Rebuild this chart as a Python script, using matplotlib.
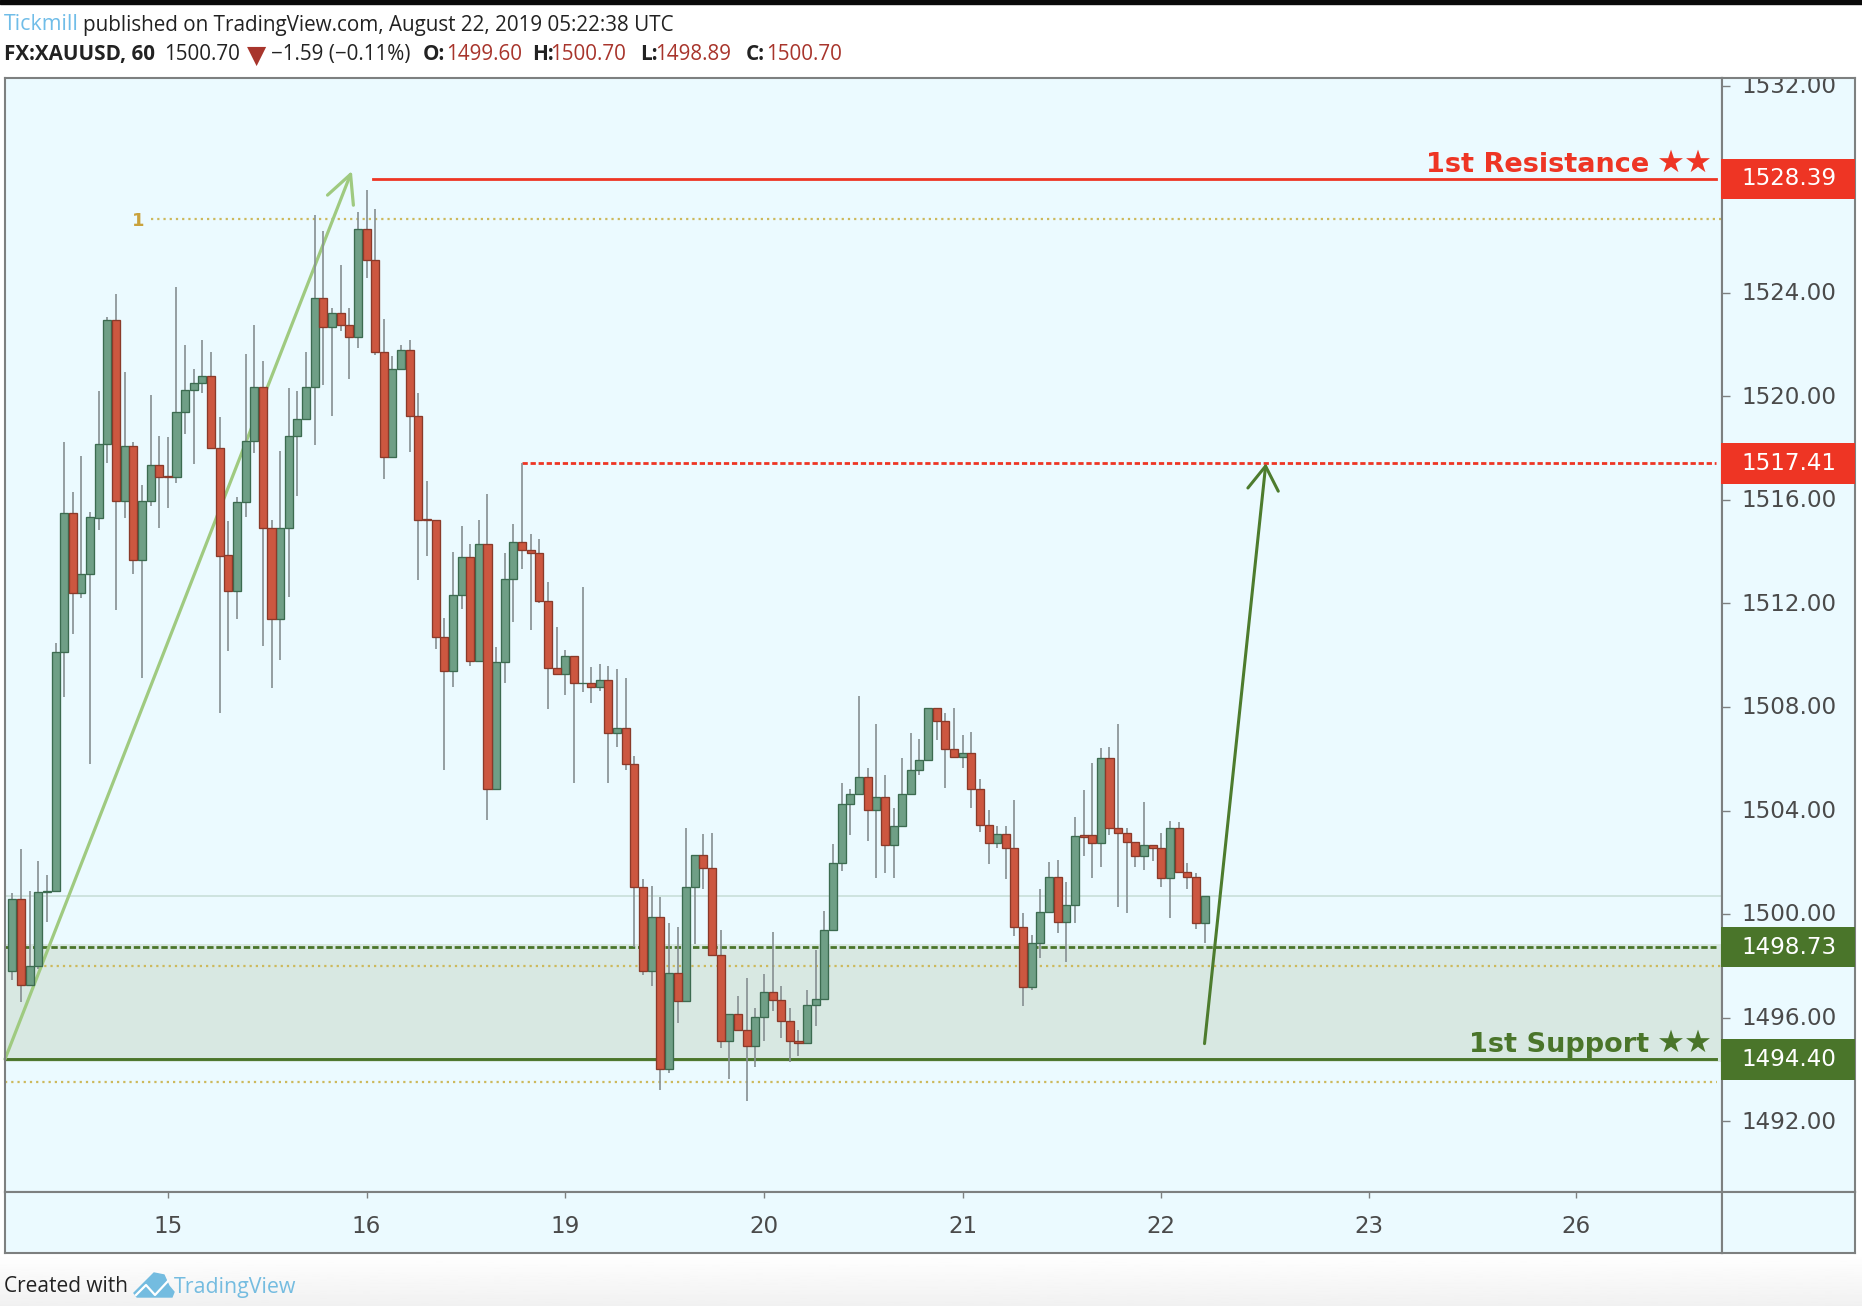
import numpy as np
import matplotlib
matplotlib.use("Agg")
import matplotlib.pyplot as plt
from matplotlib.patches import Polygon, Rectangle

W, H = 1862, 1306

# hourly candles
opens = [1497.80, 1500.57, 1497.26, 1498.00, 1500.84, 1500.89, 1510.12, 1515.51, 1512.41, 1513.12,
	1515.31, 1518.15, 1522.96, 1515.96, 1518.09, 1513.67, 1515.96, 1517.35, 1516.92, 1516.89,
	1519.38, 1520.24, 1520.52, 1520.78, 1518.01, 1513.87, 1512.48, 1515.90, 1518.27, 1520.37,
	1514.90, 1511.41, 1514.90, 1518.46, 1519.13, 1520.37, 1523.81, 1522.69, 1523.20, 1522.74,
	1522.29, 1526.44, 1525.25, 1521.69, 1517.66, 1521.04, 1521.77, 1519.25, 1515.27, 1515.24,
	1510.70, 1509.38, 1512.34, 1513.79, 1509.77, 1514.31, 1504.84, 1509.72, 1512.93, 1514.38,
	1514.07, 1513.93, 1512.08, 1509.51, 1509.26, 1509.96, 1508.91, 1508.91, 1508.77, 1509.05,
	1507.01, 1507.19, 1505.81, 1501.03, 1497.79, 1499.89, 1494.03, 1497.73, 1496.66, 1501.03,
	1502.27, 1501.80, 1498.44, 1495.11, 1496.13, 1495.54, 1494.89, 1496.01, 1496.99, 1496.68,
	1495.89, 1495.09, 1495.03, 1496.48, 1496.74, 1499.38, 1501.96, 1504.25, 1504.63, 1505.30,
	1504.04, 1504.52, 1502.66, 1503.40, 1504.65, 1505.56, 1505.97, 1507.96, 1507.47, 1506.36,
	1506.08, 1506.23, 1504.84, 1503.45, 1502.73, 1503.11, 1502.54, 1499.51, 1497.19, 1498.89,
	1500.09, 1501.42, 1499.70, 1500.35, 1503.04, 1503.04, 1502.73, 1506.04, 1503.33, 1503.14,
	1502.79, 1502.26, 1502.66, 1502.54, 1501.40, 1503.33, 1501.61, 1501.42, 1499.64]
highs = [1500.80, 1502.50, 1500.91, 1502.04, 1501.51, 1510.46, 1518.23, 1516.31, 1517.70, 1515.53,
	1520.21, 1523.05, 1523.95, 1520.92, 1518.24, 1516.57, 1520.05, 1518.46, 1518.44, 1524.20,
	1521.98, 1521.04, 1522.17, 1521.69, 1519.21, 1515.19, 1516.12, 1521.65, 1522.76, 1521.37,
	1515.24, 1517.90, 1520.32, 1520.19, 1521.69, 1526.99, 1526.39, 1523.42, 1525.07, 1523.42,
	1527.10, 1527.96, 1527.23, 1522.97, 1521.56, 1521.98, 1522.17, 1520.14, 1516.71, 1515.24,
	1511.45, 1514.00, 1515.00, 1514.31, 1515.24, 1516.24, 1510.32, 1513.95, 1515.07, 1517.41,
	1514.69, 1514.48, 1512.83, 1511.07, 1510.20, 1509.96, 1512.65, 1509.55, 1509.65, 1509.60,
	1509.46, 1509.13, 1506.10, 1501.36, 1501.10, 1500.67, 1499.65, 1499.51, 1503.34, 1502.27,
	1503.08, 1503.13, 1499.39, 1496.13, 1496.82, 1497.53, 1496.37, 1497.70, 1499.30, 1497.23,
	1496.37, 1495.51, 1497.06, 1498.61, 1500.13, 1502.69, 1505.07, 1504.85, 1508.42, 1505.65,
	1507.36, 1505.39, 1504.08, 1506.04, 1506.98, 1506.76, 1507.96, 1507.96, 1507.75, 1507.97,
	1506.90, 1507.04, 1505.20, 1504.02, 1503.41, 1503.41, 1504.40, 1500.06, 1499.19, 1500.96,
	1502.02, 1502.08, 1501.25, 1503.76, 1504.79, 1505.84, 1506.40, 1506.46, 1507.36, 1503.31,
	1502.79, 1504.34, 1502.66, 1503.14, 1503.60, 1503.54, 1501.96, 1501.57, 1500.70]
lows = [1497.45, 1496.59, 1497.26, 1497.90, 1499.71, 1500.89, 1508.37, 1510.81, 1512.19, 1505.80,
	1514.83, 1517.41, 1511.74, 1515.28, 1513.12, 1509.11, 1515.76, 1514.90, 1515.67, 1516.66,
	1518.56, 1517.38, 1520.11, 1517.99, 1507.78, 1510.16, 1511.39, 1515.35, 1517.79, 1510.36,
	1508.72, 1509.81, 1512.26, 1516.14, 1519.13, 1518.11, 1520.43, 1519.23, 1522.53, 1520.66,
	1521.85, 1524.55, 1521.59, 1516.80, 1517.66, 1521.04, 1517.86, 1512.90, 1513.83, 1510.24,
	1505.55, 1508.77, 1511.79, 1509.57, 1509.77, 1503.65, 1504.84, 1508.91, 1511.27, 1513.34,
	1510.98, 1512.01, 1507.91, 1509.26, 1508.48, 1505.06, 1508.56, 1508.17, 1508.62, 1505.06,
	1506.44, 1505.55, 1498.73, 1497.65, 1497.23, 1493.22, 1493.87, 1495.80, 1496.66, 1498.85,
	1500.98, 1498.44, 1494.82, 1493.65, 1495.54, 1492.78, 1494.08, 1495.11, 1496.27, 1495.20,
	1494.28, 1494.54, 1495.03, 1495.67, 1496.74, 1499.38, 1501.66, 1503.05, 1504.63, 1502.83,
	1501.38, 1501.57, 1501.38, 1503.40, 1504.65, 1505.37, 1505.97, 1506.72, 1504.89, 1506.08,
	1505.66, 1504.08, 1503.18, 1501.92, 1502.54, 1501.34, 1499.15, 1496.45, 1497.06, 1498.29,
	1500.09, 1499.28, 1498.16, 1499.64, 1502.24, 1501.38, 1501.83, 1503.05, 1500.26, 1500.06,
	1501.83, 1501.72, 1502.05, 1501.05, 1499.87, 1501.61, 1500.99, 1499.41, 1498.89]
closes = [1500.57, 1497.26, 1498.00, 1500.84, 1500.89, 1510.12, 1515.51, 1512.41, 1513.12, 1515.32,
	1518.15, 1522.96, 1515.96, 1518.09, 1513.67, 1515.96, 1517.35, 1516.89, 1516.88, 1519.38,
	1520.24, 1520.52, 1520.78, 1517.99, 1513.84, 1512.48, 1515.90, 1518.27, 1520.37, 1514.90,
	1511.41, 1514.90, 1518.46, 1519.13, 1520.37, 1523.81, 1522.69, 1523.20, 1522.74, 1522.29,
	1526.44, 1525.25, 1521.69, 1517.66, 1521.04, 1521.77, 1519.25, 1515.24, 1515.24, 1510.70,
	1509.38, 1512.34, 1513.79, 1509.77, 1514.31, 1504.84, 1509.72, 1512.93, 1514.38, 1514.07,
	1513.93, 1512.08, 1509.51, 1509.26, 1509.96, 1508.91, 1508.94, 1508.77, 1509.05, 1507.01,
	1507.19, 1505.81, 1501.03, 1497.79, 1499.89, 1494.03, 1497.73, 1496.66, 1501.03, 1502.27,
	1501.80, 1498.44, 1495.11, 1496.13, 1495.54, 1494.89, 1496.01, 1496.99, 1496.68, 1495.89,
	1495.09, 1495.03, 1496.48, 1496.74, 1499.38, 1501.96, 1504.25, 1504.63, 1505.30, 1504.04,
	1504.52, 1502.66, 1503.40, 1504.65, 1505.56, 1505.97, 1507.96, 1507.47, 1506.36, 1506.08,
	1506.23, 1504.84, 1503.45, 1502.73, 1503.11, 1502.54, 1499.51, 1497.19, 1498.89, 1500.09,
	1501.42, 1499.70, 1500.35, 1503.01, 1502.99, 1502.73, 1506.04, 1503.33, 1503.14, 1502.79,
	1502.26, 1502.66, 1502.54, 1501.40, 1503.33, 1501.61, 1501.42, 1499.64, 1500.70]

day_ticks = [18, 41, 64, 87, 110, 133, 157, 181]
day_labels = ["15", "16", "19", "20", "21", "22", "23", "26"]
# 1528.00 sits under the resistance badge in the original
price_ticks = [1492, 1496, 1500, 1504, 1508, 1512, 1516, 1520, 1524, 1532]

resistance = 1528.39
target = 1517.41
zone_top = 1498.73
support = 1494.40
last_close = 1500.70
fib_levels = [1526.83, 1498.00, 1493.52]

BG = "#ebfaff"
BORDER = "#7d8080"
TEXT = "#4a4a4a"
RED = "#ee3524"
GREEN = "#4a752a"
DARKRED = "#a8352c"
BLUE = "#70bde8"
GOLD = "#cdb95c"

XLIM = (-0.85, 197.9)
YLIM = (1489.27, 1532.29)

fig = plt.figure(figsize=(W / 100, H / 100), dpi=100, facecolor="white")

# page furniture, in pixel coordinates
page = fig.add_axes([0, 0, 1, 1])
grad = np.linspace(1, 0.945, 50).reshape(-1, 1)
page.imshow(grad, extent=(0, W, H, 1253), aspect="auto", cmap="gray", vmin=0, vmax=1)
page.set_xlim(0, W)
page.set_ylim(H, 0)
page.axis("off")
page.add_patch(Rectangle((0, 0), W, 4, color="#0a0a0a"))

def head(x, y, s, color="#222222", size=14.9, weight="normal"):
	page.text(x, y, s, color=color, fontsize=size, fontweight=weight, family="Open Sans", va="center")

head(4, 25, "Tickmill", BLUE, size=15.4)
head(83, 25, "published on TradingView.com, August 22, 2019 05:22:38 UTC")
head(4, 54.5, "FX:XAUUSD, 60", weight="bold", size=14.9)
head(164, 54.5, "1500.70")
page.text(247, 56, "▼", color=DARKRED, fontsize=18, va="center", family="DejaVu Sans")
head(271, 54.5, "−1.59 (−0.11%)")
for x, lab, val_x, val in [(423, "O:", 446, 1499.60), (532, "H:", 550, 1500.70), (640, "L:", 655, 1498.89), (746, "C:", 766, 1500.70)]:
	head(x, 54.5, lab, weight="bold")
	head(val_x, 54.5, "%.2f" % val, DARKRED)

head(4, 1286, "Created with", "#222222", size=15)
head(174, 1287, "TradingView", "#74bce0", size=15.4)
page.add_patch(Polygon([(134, 1293), (147, 1280), (154, 1273), (164, 1275), (169, 1286), (174, 1292), (172, 1297), (137, 1297)], color="#74bce0"))
page.plot([136, 146, 155, 168], [1295, 1285, 1295, 1281], color="white", lw=1.6)

# main pane
L, T, R, B = 5, 78, 1722, 1192
ax = fig.add_axes([L / W, 1 - B / H, (R - L) / W, (B - T) / H], facecolor=BG)
ax.set_xlim(*XLIM)
ax.set_ylim(*YLIM)
ax.set_xticks([])
ax.set_yticks([])

ax.axhspan(support - 0.1, zone_top + 0.1, color="#d8e8e2", lw=0, zorder=1)
ax.axhline(last_close, color="#c6dcd6", lw=1.1, zorder=1.5)
ax.plot([16.0, XLIM[1]], [fib_levels[0], fib_levels[0]], color=GOLD, lw=1.6, ls=(0, (1, 1.8)), zorder=2)
ax.plot([3, XLIM[1]], [fib_levels[1], fib_levels[1]], color=GOLD, lw=1.6, ls=(0, (1, 1.8)), zorder=2)
ax.plot([XLIM[0], 197.3], [fib_levels[2], fib_levels[2]], color=GOLD, lw=1.6, ls=(0, (1, 1.8)), zorder=2)
ax.text(15.3, fib_levels[0] - 0.05, "1", color="#c9a23c", fontsize=13, fontweight="bold", ha="right", va="center")

ax.plot([41.8, XLIM[1] - 0.7], [resistance, resistance], color=RED, lw=2.0, zorder=2)
ax.plot([59, XLIM[1] - 0.7], [target, target], color=RED, lw=2.0, ls=(0, (1.9, 1.0)), zorder=2)
ax.plot([XLIM[0], XLIM[1] - 0.7], [support, support], color=GREEN, lw=2.1, zorder=2)
ax.plot([XLIM[0], XLIM[1] - 0.7], [zone_top, zone_top], color=GREEN, lw=2.0, ls=(0, (2.3, 1.0)), zorder=2)

ax.annotate("", xy=(39.3, 1528.7), xytext=(XLIM[0], support), zorder=2.5,
	arrowprops=dict(arrowstyle="->,head_length=20,head_width=10", mutation_scale=1, color="#9fca80", lw=2.3, shrinkA=0, shrinkB=0))

# candles
xs = np.arange(len(opens))
o, h, l, c = map(np.array, (opens, highs, lows, closes))
up = c >= o
ax.vlines(xs, l, h, color="#868f91", lw=1.2, zorder=3)
ax.bar(xs[up], (c - o)[up], bottom=o[up], width=0.93, color="#6f9f86", edgecolor="#3c6b50", lw=0.95, zorder=4)
ax.bar(xs[~up], (c - o)[~up], bottom=o[~up], width=0.93, color="#cc5740", edgecolor="#8a3a2a", lw=0.95, zorder=4)

ax.annotate("", xy=(145.1, target), xytext=(138, 1495.0), zorder=5,
	arrowprops=dict(arrowstyle="->,head_length=17,head_width=11", mutation_scale=1, color="#4d7c2e", lw=2.2, shrinkA=0, shrinkB=0))

# level captions, the stars run bigger than the words
for level, word, col in [(resistance, "1st Resistance", RED), (support, "1st Support", GREEN)]:
	ax.text(189.5, level + 0.27, word, color=col, fontsize=19.5, fontweight="bold", ha="right", va="baseline", family="DejaVu Sans", zorder=6)
	ax.text(196.9, level + 0.27, "★★", color=col, fontsize=22.5, ha="right", va="baseline", family="DejaVu Sans", zorder=6)

# price scale
pr = fig.add_axes([R / W, 1 - B / H, (1855 - R) / W, (B - T) / H], facecolor=BG)
pr.set_xlim(0, 133)
pr.set_ylim(*YLIM)
pr.set_xticks([])
pr.set_yticks(price_ticks)
pr.set_yticklabels([])
pr.tick_params(axis="y", direction="in", length=5.5, width=1, color=BORDER)
for p in price_ticks:
	pr.text(19.5, p - 0.03, "%.2f" % p, color=TEXT, fontsize=16.6, va="center", clip_on=True, family="DejaVu Sans", zorder=2)
for level, col in [(resistance, RED), (target, RED), (zone_top, GREEN), (support, GREEN)]:
	pr.add_patch(Rectangle((-1, level - 0.79), 134, 1.58, color=col, lw=0, zorder=3, clip_on=False))
	pr.text(19.5, level, "%.2f" % level, color="white", fontsize=16.6, va="center", family="DejaVu Sans", zorder=4)

# time scale
ts = fig.add_axes([L / W, 1 - 1253 / H, (R - L) / W, (1253 - B) / H], facecolor=BG)
ts.set_xlim(*XLIM)
ts.set_ylim(0, 1)
ts.set_yticks([])
ts.set_xticks(day_ticks)
ts.set_xticklabels([])
ts.tick_params(axis="x", direction="in", top=True, bottom=False, length=4.5, width=1, color=BORDER)
for x, s in zip(day_ticks, day_labels):
	ts.text(x, 0.44, s, color=TEXT, fontsize=16.6, ha="center", va="center", family="DejaVu Sans")

cn = fig.add_axes([R / W, 1 - 1253 / H, (1855 - R) / W, (1253 - B) / H], facecolor=BG)
cn.set_xticks([])
cn.set_yticks([])

for a in (ax, pr, ts, cn):
	for s in a.spines.values():
		s.set_color(BORDER)
		s.set_linewidth(1.5)

fig.savefig("out.png", dpi=100)
